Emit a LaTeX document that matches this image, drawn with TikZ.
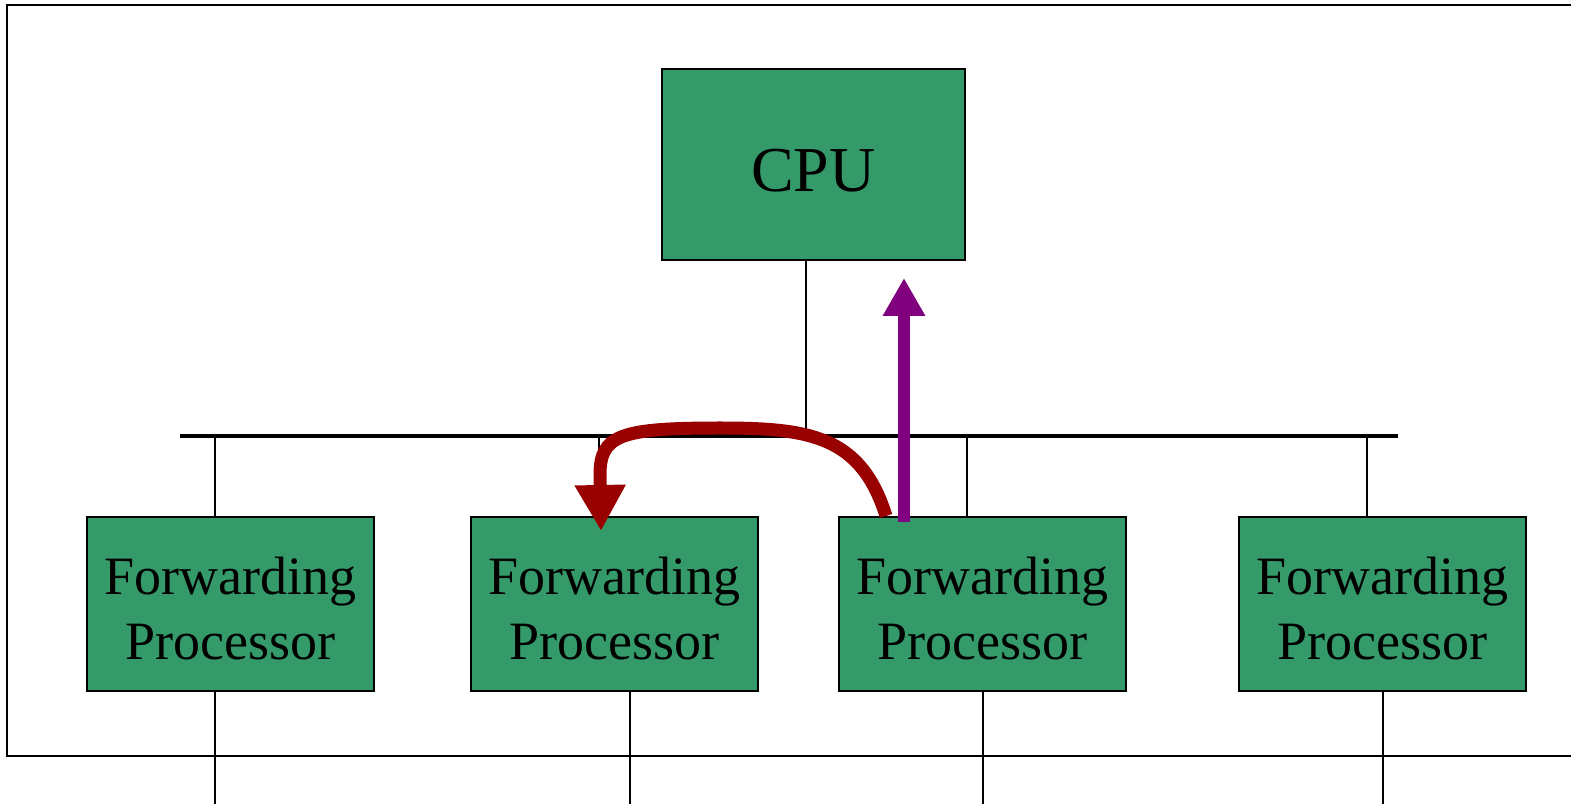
\documentclass[tikz,border=0pt]{standalone}
\usepackage{fontspec}
\setmainfont{Liberation Serif}
\usetikzlibrary{positioning,arrows.meta}
\definecolor{boxgreen}{RGB}{53,154,105}
\definecolor{arrowred}{RGB}{153,0,0}
\definecolor{arrowpurple}{RGB}{128,0,128}

\begin{document}
\begin{tikzpicture}[
    x=0.5pt, y=-0.5pt,
    module/.style={draw, line width=1pt, fill=boxgreen, inner sep=0pt},
    cpumodule/.style={module, minimum width=151.5pt, minimum height=95.5pt,
        text height=27.5pt, font=\fontsize{32}{38}\selectfont},
    fwdmodule/.style={module, minimum width=143.5pt, minimum height=87pt,
        align=center, text height=56pt, font=\fontsize{27}{32.5}\selectfont},
    wire/.style={line width=1pt},
    bus/.style={line width=2pt},
    uparrow/.style={line width=6.3pt, arrowpurple,
        -{Triangle[width=20pt, length=19pt]}},
    backarrow/.style={line width=6.5pt, arrowred,
        -{Triangle[width=24pt, length=23pt]}},
    ]
    \useasboundingbox (0,0) rectangle (1571,807);
    \draw[wire] (1571,5) -- (7,5) -- (7,756) -- (1571,756);
    \node[cpumodule] (cpu) at (813.5,164.5) {CPU};
    \node[fwdmodule] (fwd1) at (230.5,604) {Forwarding\\Processor};
    \node[fwdmodule, right=47.5pt of fwd1] (fwd2) {Forwarding\\Processor};
    \node[fwdmodule, right=39.5pt of fwd2] (fwd3) {Forwarding\\Processor};
    \node[fwdmodule, right=55.5pt of fwd3] (fwd4) {Forwarding\\Processor};
    \coordinate (busleft) at (180,436);
    \coordinate (busright) at (1398,436);
    \draw[bus] (busleft) -- (busright);
    \draw[wire] ([xshift=-3.75pt]cpu.south) -- ([xshift=-3.75pt]cpu.south |- busleft);
    \foreach \n in {1,...,4}
        \draw[wire] ([xshift=-7.75pt]fwd\n.north) -- ([xshift=-7.75pt]fwd\n.north |- busleft);
    \foreach \n/\dx in {1/-7.75pt, 2/7.75pt, 3/0pt, 4/0pt}
        \draw[wire] ([xshift=\dx]fwd\n.south) -- ++(0,112);
    % message to the CPU and forwarded to another processor
    \draw[uparrow] ([xshift=33pt, yshift=-3pt]fwd3.north west)
        -- ([xshift=33pt, yshift=-8.5pt]fwd3.north west |- cpu.south);
    \draw[backarrow] ([xshift=24pt]fwd3.north west)
        .. controls +(-25,-80) and +(90,0) .. (720,428)
        .. controls +(-100,0) and +(0,-40) .. (600,475)
        -- ([xshift=-6.75pt, yshift=-7.5pt]fwd2.north);
\end{tikzpicture}
\end{document}
